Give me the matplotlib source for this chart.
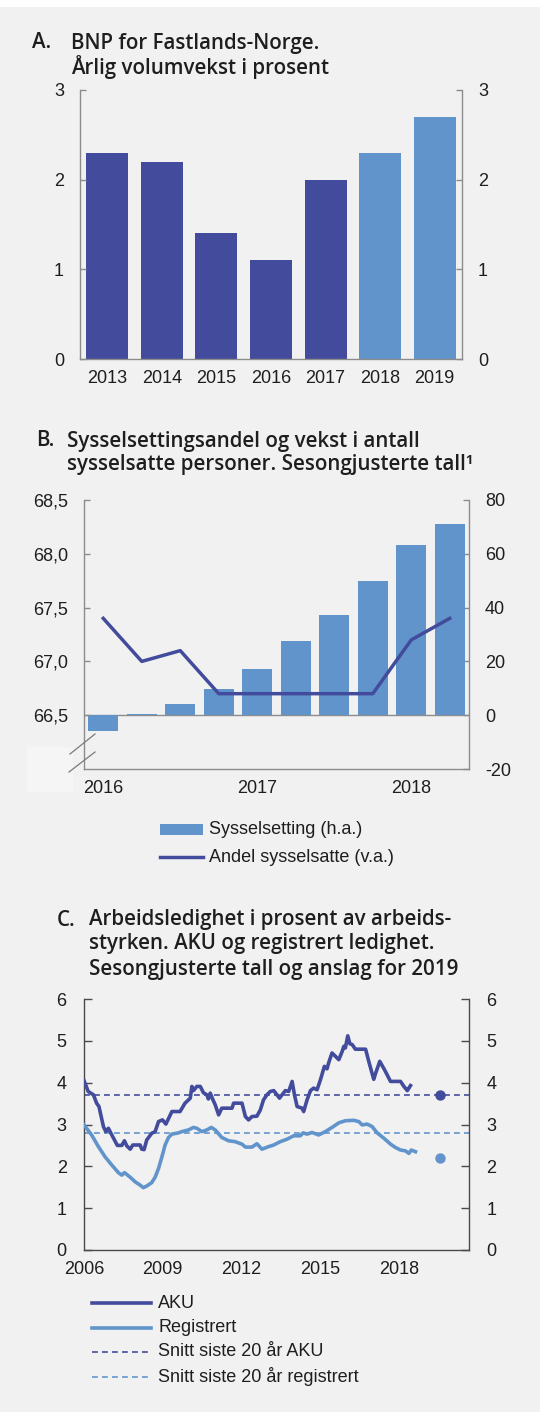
import numpy as np
import matplotlib
matplotlib.use("Agg")
import matplotlib.pyplot as plt
from matplotlib.lines import Line2D
from matplotlib.patches import Rectangle

W, H = 540, 1419
BG = '#f1f1f1'
DARK = '#434c9c'
LIGHT = '#6294cc'
SPINE_LIGHT = '#8c8c8c'
SPINE_DARK = '#4a4a4a'
TXT = '#1e1e1e'

plt.rcParams['font.family'] = ['Liberation Sans', 'DejaVu Sans']
plt.rcParams['font.size'] = 13
plt.rcParams['text.color'] = TXT
plt.rcParams['xtick.color'] = TXT
plt.rcParams['ytick.color'] = TXT
plt.rcParams['axes.unicode_minus'] = False

# --- A: BNP Fastlands-Norge, årlig volumvekst (prosent)
bnp_years = ['2013', '2014', '2015', '2016', '2017', '2018', '2019']
bnp_growth = [2.3, 2.2, 1.4, 1.1, 2.0, 2.3, 2.7]
bnp_forecast = [False, False, False, False, False, True, True]

# --- B: sysselsetting per kvartal 2016K1-2018K2
syss_quarters = ['2016K1', '2016K2', '2016K3', '2016K4', '2017K1',
                 '2017K2', '2017K3', '2017K4', '2018K1', '2018K2']
syss_growth = [-5.7, 0.3, 4.2, 9.7, 17.1, 27.6, 37.3, 49.9, 63.4, 71.1]  # h.a.
syss_share = [67.4, 67.0, 67.1, 66.7, 66.7, 66.7, 66.7, 66.7, 67.2, 67.4]  # v.a.
syss_xlabels = ['2016', '2017', '2018']

# --- C: arbeidsledighet
aku_year = [2006.0, 2006.16, 2006.36, 2006.48, 2006.57, 2006.74, 2006.83, 2006.93,
            2007.06, 2007.27, 2007.44, 2007.54, 2007.63, 2007.76, 2007.86, 2008.14,
            2008.2, 2008.29, 2008.39, 2008.58, 2008.71, 2008.84, 2008.99, 2009.12,
            2009.35, 2009.66, 2009.85, 2010.05, 2010.11, 2010.17, 2010.3, 2010.43,
            2010.55, 2010.68, 2010.74, 2010.81, 2010.9, 2011.0, 2011.13, 2011.25,
            2011.64, 2011.7, 2012.02, 2012.15, 2012.27, 2012.4, 2012.59, 2012.72,
            2012.84, 2012.97, 2013.1, 2013.23, 2013.45, 2013.67, 2013.8, 2013.93,
            2014.02, 2014.12, 2014.31, 2014.37, 2014.5, 2014.63, 2014.75, 2014.88,
            2015.01, 2015.16, 2015.26, 2015.32, 2015.45, 2015.58, 2015.71, 2015.84,
            2015.9, 2015.96, 2016.05, 2016.13, 2016.22, 2016.34, 2016.73, 2016.85,
            2017.04, 2017.11, 2017.27, 2017.45, 2017.68, 2018.06, 2018.19, 2018.32,
            2018.38, 2018.44]
aku_val = [4.05, 3.79, 3.71, 3.51, 3.43, 2.95, 2.83, 2.91,
           2.75, 2.50, 2.50, 2.61, 2.49, 2.41, 2.51, 2.51,
           2.41, 2.40, 2.63, 2.79, 2.83, 3.07, 3.11, 3.01,
           3.31, 3.31, 3.51, 3.63, 3.91, 3.81, 3.91, 3.91,
           3.76, 3.71, 3.61, 3.75, 3.61, 3.47, 3.23, 3.39,
           3.39, 3.51, 3.51, 3.19, 3.11, 3.19, 3.20, 3.35,
           3.59, 3.71, 3.79, 3.81, 3.63, 3.81, 3.79, 4.03,
           3.71, 3.43, 3.39, 3.31, 3.59, 3.81, 3.87, 3.83,
           4.07, 4.39, 4.33, 4.47, 4.71, 4.63, 4.55, 4.75,
           4.87, 4.83, 5.12, 4.93, 4.91, 4.80, 4.80, 4.51,
           4.08, 4.22, 4.51, 4.31, 4.03, 4.03, 3.91, 3.81,
           3.87, 3.93]
reg_year = [2006.0, 2006.29, 2006.55, 2006.8, 2007.06, 2007.31, 2007.44, 2007.54,
            2007.76, 2007.95, 2008.14, 2008.26, 2008.39, 2008.58, 2008.71, 2008.84,
            2008.97, 2009.09, 2009.22, 2009.35, 2009.6, 2009.73, 2009.98, 2010.17,
            2010.3, 2010.49, 2010.68, 2010.85, 2011.0, 2011.25, 2011.51, 2011.76,
            2012.02, 2012.15, 2012.4, 2012.59, 2012.78, 2013.03, 2013.23, 2013.48,
            2013.74, 2013.99, 2014.24, 2014.35, 2014.5, 2014.69, 2014.94, 2015.2,
            2015.45, 2015.71, 2015.96, 2016.28, 2016.47, 2016.6, 2016.79, 2016.98,
            2017.17, 2017.43, 2017.68, 2017.87, 2018.06, 2018.25, 2018.38, 2018.47,
            2018.63]
reg_val = [2.99, 2.75, 2.47, 2.23, 2.03, 1.85, 1.79, 1.85,
           1.74, 1.63, 1.55, 1.49, 1.53, 1.61, 1.74, 1.95,
           2.23, 2.51, 2.69, 2.77, 2.80, 2.83, 2.87, 2.93,
           2.91, 2.83, 2.87, 2.93, 2.87, 2.69, 2.61, 2.59,
           2.53, 2.46, 2.46, 2.54, 2.41, 2.47, 2.51, 2.59,
           2.65, 2.73, 2.73, 2.80, 2.77, 2.81, 2.75, 2.83,
           2.93, 3.04, 3.09, 3.10, 3.07, 2.99, 3.01, 2.95,
           2.80, 2.67, 2.53, 2.45, 2.39, 2.37, 2.31, 2.39,
           2.35]
aku_avg20 = 3.7
reg_avg20 = 2.8
forecast_year = 2019.56
aku_2019 = 3.7
reg_2019 = 2.2
c_xticks = [2006, 2009, 2012, 2015, 2018]

fig = plt.figure(figsize=(W / 100, H / 100), dpi=100)
fig.patch.set_facecolor('white')
fig.add_artist(Rectangle((0, 1 - 1412 / H), 1, (1412 - 7) / H, transform=fig.transFigure,
                         facecolor=BG, edgecolor='none', zorder=-10))


def axes_px(l, t, r, b):
    ax = fig.add_axes([l / W, 1 - b / H, (r - l) / W, (b - t) / H])
    ax.set_facecolor('none')
    return ax


def fx(x):
    return x / W


def fy(y):
    return 1 - y / H


def title(letter, lx, tx, ys, lines):
    kw = dict(family=['Open Sans', 'DejaVu Sans'], weight='semibold', fontsize=14.8,
              va='center', ha='left', color=TXT)
    fig.text(fx(lx), fy(ys[0]), letter, **kw)
    for y, s in zip(ys, lines):
        fig.text(fx(tx), fy(y), s, **kw)


def style(ax, spine_col):
    ax.spines['top'].set_visible(False)
    for s in ['left', 'right', 'bottom']:
        ax.spines[s].set_color(spine_col)
        ax.spines[s].set_linewidth(1.0)
    ax.tick_params(axis='y', direction='in', length=4.5, width=1, color=spine_col,
                   pad=11.5, labelsize=13)
    ax.tick_params(axis='x', length=0, pad=8, labelsize=13)


# ---------- A
title('A.', 32, 71, [43, 67], ['BNP for Fastlands-Norge.', 'Årlig volumvekst i prosent'])
axA = axes_px(80, 90, 462, 359)
xa = np.arange(len(bnp_years))
axA.bar(xa, bnp_growth, width=0.77, color=[LIGHT if f else DARK for f in bnp_forecast])
axA.set_xlim(-0.5, 6.5)
axA.set_ylim(0, 3)
axA.set_yticks([0, 1, 2, 3])
axA.set_xticks(xa)
axA.set_xticklabels(bnp_years)
style(axA, SPINE_LIGHT)
axA.tick_params(axis='y', right=True, labelright=True)

# ---------- B
title('B.', 36, 67, [441, 465], ['Sysselsettingsandel og vekst i antall',
                                 'sysselsatte personer. Sesongjusterte tall¹'])
axB = axes_px(84, 500, 469, 769)
xb = np.arange(len(syss_quarters))
axB.axhline(0, color=SPINE_LIGHT, lw=1.0, zorder=1)
axB.bar(xb, syss_growth, width=0.78, color=LIGHT, zorder=2)
axB.set_xlim(-0.5, 9.5)
axB.set_ylim(-20, 80)
axB.set_yticks([-20, 0, 20, 40, 60, 80])
axB.set_xticks([0, 4, 8])
axB.set_xticklabels(syss_xlabels)
style(axB, SPINE_LIGHT)

axB2 = axB.twinx()
axB2.plot(xb, syss_share, color=DARK, lw=2.5, zorder=3)
axB2.set_ylim(66.0, 68.5)
axB2.set_yticks([66.5, 67.0, 67.5, 68.0, 68.5])
axB2.set_yticklabels([f'{v:.1f}'.replace('.', ',') for v in [66.5, 67.0, 67.5, 68.0, 68.5]])
for s in axB2.spines.values():
    s.set_visible(False)
# twinx moves the ticks, so set the sides afterwards
axB.tick_params(axis='y', right=True, left=False, labelright=True, labelleft=False)
axB2.tick_params(axis='y', direction='in', length=4.5, width=1, color=SPINE_LIGHT,
                 pad=11.5, labelsize=13, left=True, right=False,
                 labelleft=True, labelright=False)

# break marks and patch on the left axis
fig.add_artist(Rectangle((fx(27), fy(792)), fx(46), 45 / H, transform=fig.transFigure,
                         facecolor='#f5f5f5', edgecolor='none', zorder=-5))
for (x0, y0, x1, y1) in [(70, 754, 95, 734), (69, 772, 95, 752)]:
    fig.add_artist(Line2D([fx(x0), fx(x1)], [fy(y0), fy(y1)], color='#7a7a7a', lw=0.9))

# legend B
fig.add_artist(Rectangle((fx(160), fy(835)), fx(43), 11 / H, transform=fig.transFigure,
                         facecolor=LIGHT, edgecolor='none'))
fig.add_artist(Line2D([fx(160), fx(203)], [fy(857), fy(857)], color=DARK, lw=2.5))
fig.text(fx(209), fy(829), 'Sysselsetting (h.a.)', va='center', fontsize=13)
fig.text(fx(209), fy(857), 'Andel sysselsatte (v.a.)', va='center', fontsize=13)

# ---------- C
title('C.', 57, 89, [920, 944, 969], ['Arbeidsledighet i prosent av arbeids-',
                                      'styrken. AKU og registrert ledighet.',
                                      'Sesongjusterte tall og anslag for 2019'])
axC = axes_px(84, 999, 469, 1250)
axC.axhline(aku_avg20, color=DARK, lw=1.2, dashes=(3.5, 2.5), zorder=2)
axC.axhline(reg_avg20, color=LIGHT, lw=1.2, dashes=(3.5, 2.5), zorder=2)
axC.plot(reg_year, reg_val, color=LIGHT, lw=2.6, zorder=3)
axC.plot(aku_year, aku_val, color=DARK, lw=2.6, zorder=4)
axC.plot([forecast_year], [aku_2019], 'o', color=DARK, ms=6.5, zorder=5)
axC.plot([forecast_year], [reg_2019], 'o', color=LIGHT, ms=6.5, zorder=5)
axC.set_xlim(2006, 2020.67)
axC.set_ylim(0, 6)
axC.set_yticks(range(7))
axC.set_xticks(c_xticks)
style(axC, SPINE_DARK)
axC.tick_params(axis='y', right=True, labelright=True, length=5.5, pad=12.5)

# legend C
leg_items = [('AKU', DARK, '-'), ('Registrert', LIGHT, '-'),
             ('Snitt siste 20 år AKU', DARK, '--'),
             ('Snitt siste 20 år registrert', LIGHT, '--')]
for (lab, col, ls), y in zip(leg_items, [1303, 1328, 1352, 1377]):
    if ls == '-':
        fig.add_artist(Line2D([fx(92), fx(151)], [fy(y), fy(y)], color=col, lw=2.6))
    else:
        fig.add_artist(Line2D([fx(92), fx(151)], [fy(y), fy(y)], color=col, lw=1.2,
                              dashes=(3.5, 2.5)))
    fig.text(fx(158), fy(y), lab, va='center', fontsize=13)

fig.savefig('out.png', dpi=100, facecolor=fig.get_facecolor())
